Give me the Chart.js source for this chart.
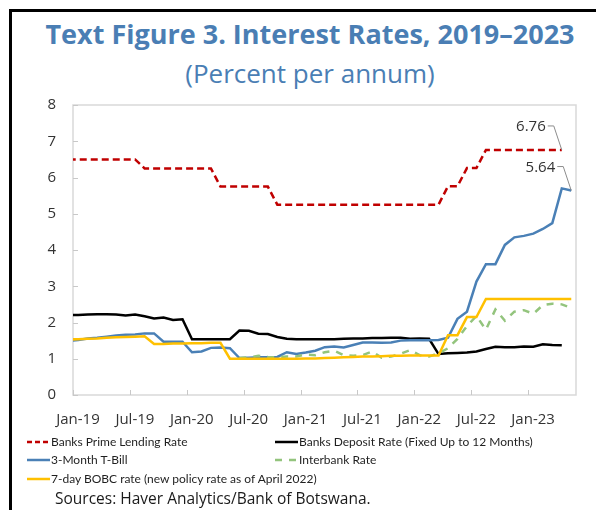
<!DOCTYPE html>
<html>
<head>
<meta charset="utf-8">
<script src="https://cdn.jsdelivr.net/npm/chart.js@4/dist/chart.umd.min.js"></script>
<style>
  html, body { margin: 0; padding: 0; background: #fff; }
  #page { position: relative; width: 596px; height: 510px; overflow: hidden; font-family: 'Open Sans', sans-serif; }
  #frame { position: absolute; left: 9px; top: 9px; width: 600px; height: 520px; border-top: 3px solid #000; border-left: 3px solid #000; }
  #title { position: absolute; left: 0; width: 620px; top: 15px; text-align: center; font-size: 27px; font-weight: 700; color: #4a7eb4; }
  #subtitle { position: absolute; left: 0; width: 620px; top: 55px; text-align: center; font-size: 26px; color: #4a7eb4; }
  #chart { position: absolute; left: 0; top: 0; }
  .leg { position: absolute; font-family: Lato, 'Open Sans', sans-serif; font-size: 12px; color: #1f1f1f; white-space: nowrap; line-height: 16px; }
  .leg svg { vertical-align: middle; margin-right: 1px; position: relative; top: -1px; }
  #source { position: absolute; left: 55px; top: 487px; font-size: 15.5px; color: #1a1a1a; }
</style>
</head>
<body>
<div id="page">
  <div id="frame"></div>
  <div id="title">Text Figure 3. Interest Rates, 2019–2023</div>
  <div id="subtitle">(Percent per annum)</div>
  <canvas id="chart" width="596" height="510"></canvas>
  <div id="legend"></div>
  <div id="source">Sources: Haver Analytics/Bank of Botswana.</div>
</div>
<script>
// Месяцы наблюдений (Dec-18 нужен, чтобы линии начинались от левого края)
const months = ['Dec-18',
  'Jan-19','Feb-19','Mar-19','Apr-19','May-19','Jun-19','Jul-19','Aug-19','Sep-19','Oct-19','Nov-19','Dec-19',
  'Jan-20','Feb-20','Mar-20','Apr-20','May-20','Jun-20','Jul-20','Aug-20','Sep-20','Oct-20','Nov-20','Dec-20',
  'Jan-21','Feb-21','Mar-21','Apr-21','May-21','Jun-21','Jul-21','Aug-21','Sep-21','Oct-21','Nov-21','Dec-21',
  'Jan-22','Feb-22','Mar-22','Apr-22','May-22','Jun-22','Jul-22','Aug-22','Sep-22','Oct-22','Nov-22','Dec-22',
  'Jan-23','Feb-23','Mar-23','Apr-23','May-23'];

const tickLabels = ['Jan-19','Jul-19','Jan-20','Jul-20','Jan-21','Jul-21','Jan-22','Jul-22','Jan-23'];

const primeRate = [6.5,
  6.5,6.5,6.5,6.5,6.5,6.5,6.5,6.25,6.25,6.25,6.25,6.25,
  6.25,6.25,6.25,5.75,5.75,5.75,5.75,5.75,5.75,5.25,5.25,5.25,
  5.25,5.25,5.25,5.25,5.25,5.25,5.25,5.25,5.25,5.25,5.25,5.25,
  5.25,5.25,5.25,5.76,5.76,6.26,6.26,6.76,6.76,6.76,6.76,6.76,
  6.76,6.76,6.76,6.76,null];

const depositRate = [2.21,
  2.21,2.22,2.23,2.23,2.22,2.19,2.22,2.17,2.11,2.14,2.07,2.09,
  1.54,1.54,1.54,1.54,1.54,1.78,1.77,1.69,1.68,1.60,1.55,1.54,
  1.54,1.54,1.54,1.54,1.55,1.56,1.56,1.57,1.57,1.58,1.58,1.55,
  1.56,1.55,1.13,1.15,1.16,1.17,1.20,1.27,1.33,1.32,1.32,1.34,
  1.33,1.40,1.38,1.37,null];

const tBill = [1.49,
  1.52,1.56,1.58,1.61,1.64,1.66,1.67,1.70,1.70,1.47,1.47,1.47,
  1.18,1.20,1.30,1.31,1.29,1.02,1.03,1.04,1.04,1.05,1.18,1.13,
  1.17,1.22,1.32,1.34,1.31,1.38,1.45,1.45,1.44,1.45,1.50,1.51,
  1.51,1.51,1.52,1.58,2.10,2.30,3.13,3.61,3.61,4.14,4.35,4.39,
  4.45,4.58,4.74,5.70,5.64];

const interbank = [null,
  null,null,null,null,null,null,null,null,null,null,null,null,
  null,null,null,null,null,1.02,1.04,1.08,1.05,1.04,1.06,1.06,
  1.12,1.10,1.18,1.22,1.10,1.08,1.10,1.20,1.03,1.06,1.14,1.24,
  1.10,1.06,1.15,1.29,1.55,1.90,2.18,1.80,2.36,2.05,2.30,2.34,
  2.24,2.48,2.52,2.50,2.40];

const bobcRate = [1.53,
  1.54,1.55,1.56,1.58,1.59,1.60,1.61,1.62,1.41,1.41,1.42,1.42,
  1.43,1.43,1.44,1.44,1.00,1.00,1.00,1.00,1.00,1.00,1.00,1.00,
  1.01,1.01,1.02,1.03,1.04,1.05,1.06,1.06,1.07,1.08,1.08,1.09,
  1.09,1.09,1.09,1.65,1.65,2.15,2.15,2.65,2.65,2.65,2.65,2.65,
  2.65,2.65,2.65,2.65,2.65];

// Позиция по оси: месяцы от начала Jan-19, наблюдение ближе к середине месяца
const OBS_OFFSET = 0.55;
function toPoints(values) {
  return values.map((v, i) => ({ x: i - 1 + OBS_OFFSET, y: v }));
}

const COLORS = {
  prime: '#c00000',
  deposit: '#000000',
  tbill: '#4a80b6',
  interbank: '#93c47d',
  bobc: '#ffc000'
};

// Легенда в две колонки, как в оригинале
const legendItems = [
  { text: 'Banks Prime Lending Rate', color: COLORS.prime, dash: '5 3', left: 27, top: 434 },
  { text: 'Banks Deposit Rate (Fixed Up to 12 Months)', color: COLORS.deposit, dash: null, left: 275, top: 434 },
  { text: '3-Month T-Bill', color: COLORS.tbill, dash: null, left: 27, top: 452 },
  { text: 'Interbank Rate', color: COLORS.interbank, dash: '7 7', left: 275, top: 452 },
  { text: '7-day BOBC rate (new policy rate as of April 2022)', color: COLORS.bobc, dash: null, left: 27, top: 471 }
];
const legendEl = document.getElementById('legend');
legendItems.forEach(item => {
  const div = document.createElement('div');
  div.className = 'leg';
  div.style.left = item.left + 'px';
  div.style.top = item.top + 'px';
  div.innerHTML = `<svg width="23" height="4"><line x1="0" y1="2" x2="23" y2="2" stroke="${item.color}" stroke-width="2.5" ${item.dash ? `stroke-dasharray="${item.dash}"` : ''}/></svg>${item.text}`;
  legendEl.appendChild(div);
});

// Рамка области построения и внутренние засечки
const plotFrame = {
  id: 'plotFrame',
  beforeDatasetsDraw(chart) {
    const { ctx, chartArea: a, scales } = chart;
    ctx.save();
    ctx.strokeStyle = '#d9d9d9';
    ctx.lineWidth = 1.5;
    ctx.strokeRect(a.left, a.top, a.right - a.left, a.bottom - a.top);
    ctx.strokeStyle = '#c8c8c8';
    ctx.lineWidth = 1;
    scales.y.ticks.forEach(t => {
      const y = Math.round(scales.y.getPixelForValue(t.value)) + 0.5;
      ctx.beginPath(); ctx.moveTo(a.left, y); ctx.lineTo(a.left + 5, y); ctx.stroke();
    });
    scales.x.ticks.forEach(t => {
      const x = Math.round(scales.x.getPixelForValue(t.value)) + 0.5;
      ctx.beginPath(); ctx.moveTo(x, a.bottom); ctx.lineTo(x, a.bottom - 5); ctx.stroke();
    });
    ctx.restore();
  }
};

// Подписи последних значений с выносками
const endLabels = {
  id: 'endLabels',
  afterDatasetsDraw(chart) {
    const { ctx } = chart;
    const targets = [
      { ds: 4, digits: 2 },
      { ds: 2, digits: 2 }
    ];
    ctx.save();
    targets.forEach(tg => {
      const data = chart.data.datasets[tg.ds].data;
      let idx = data.length - 1;
      while (idx >= 0 && data[idx].y == null) idx--;
      const pt = chart.getDatasetMeta(tg.ds).data[idx];
      ctx.strokeStyle = '#8c8c8c';
      ctx.lineWidth = 1;
      ctx.beginPath();
      ctx.moveTo(pt.x - 14, pt.y - 24);
      ctx.lineTo(pt.x - 8, pt.y - 24);
      ctx.lineTo(pt.x, pt.y);
      ctx.stroke();
      ctx.fillStyle = '#333';
      ctx.font = "15px 'Open Sans'";
      ctx.textAlign = 'right';
      ctx.textBaseline = 'middle';
      ctx.fillText(data[idx].y.toFixed(tg.digits), pt.x - 16, pt.y - 23);
    });
    ctx.restore();
  }
};

Chart.defaults.font.family = "'Open Sans', sans-serif";

const lineBase = { pointRadius: 0, borderWidth: 2.5, tension: 0, spanGaps: false, clip: 0 };

new Chart(document.getElementById('chart'), {
  type: 'line',
  data: {
    datasets: [
      Object.assign({ label: '7-day BOBC rate (new policy rate as of April 2022)', data: toPoints(bobcRate), borderColor: COLORS.bobc }, lineBase),
      Object.assign({ label: 'Interbank Rate', data: toPoints(interbank), borderColor: COLORS.interbank, borderDash: [7, 7] }, lineBase),
      Object.assign({ label: '3-Month T-Bill', data: toPoints(tBill), borderColor: COLORS.tbill }, lineBase),
      Object.assign({ label: 'Banks Deposit Rate (Fixed Up to 12 Months)', data: toPoints(depositRate), borderColor: COLORS.deposit }, lineBase),
      Object.assign({ label: 'Banks Prime Lending Rate', data: toPoints(primeRate), borderColor: COLORS.prime, borderDash: [7, 4] }, lineBase)
    ]
  },
  options: {
    responsive: false,
    animation: false,
    layout: { padding: { top: 105, right: 20, left: 0, bottom: 0 } },
    plugins: {
      legend: { display: false },
      tooltip: { enabled: false }
    },
    scales: {
      x: {
        type: 'linear',
        min: 0,
        max: 53.05,
        grid: { display: false },
        border: { display: false },
        afterBuildTicks: scale => {
          scale.ticks = tickLabels.map((_, i) => ({ value: i * 6 }));
        },
        afterFit: scale => { scale.height = 115; },
        ticks: {
          callback: v => tickLabels[Math.round(v / 6)],
          color: '#333',
          font: { size: 15 },
          padding: 8,
          maxRotation: 0,
          labelOffset: 5
        }
      },
      y: {
        min: 0,
        max: 8,
        grid: { display: false, drawTicks: false },
        border: { display: false },
        afterFit: scale => { scale.width = 73; },
        ticks: {
          stepSize: 1,
          color: '#333',
          font: { size: 15 },
          padding: 17
        }
      }
    }
  },
  plugins: [plotFrame, endLabels]
});
</script>
</body>
</html>
